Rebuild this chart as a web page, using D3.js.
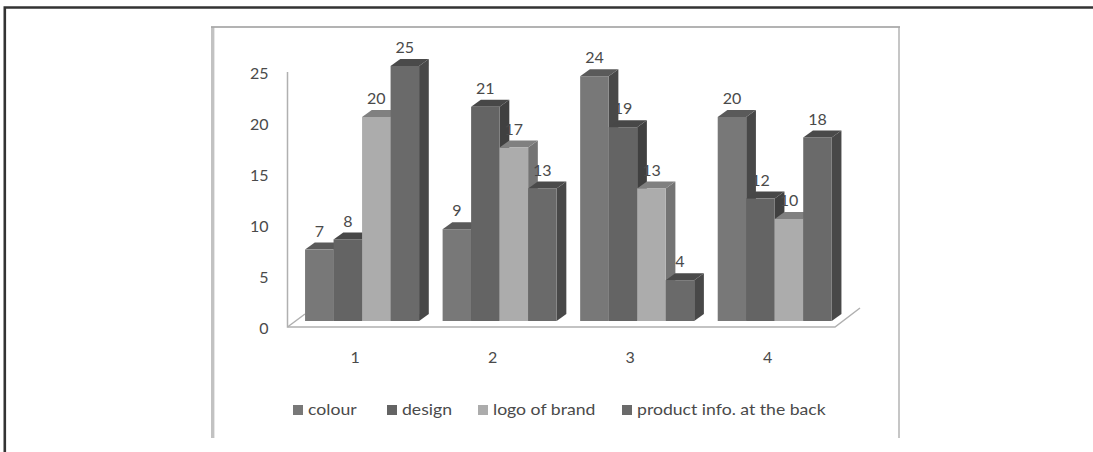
<!DOCTYPE html>
<html>
<head>
<meta charset="utf-8">
<script src="https://cdn.jsdelivr.net/npm/d3@7/dist/d3.min.js"></script>
<style>
  html, body { margin: 0; padding: 0; background: #fff; }
  svg { display: block; }
  text { font-family: Lato, "Open Sans", sans-serif; fill: #4a4a4a; }
</style>
</head>
<body>
<svg id="chart" width="1093" height="452"></svg>
<script>
// Survey scores per respondent group, one array per packaging attribute
const groups = ["1", "2", "3", "4"];
const seriesNames = ["colour", "design", "logo of brand", "product info. at the back"];
const colour = [7, 9, 24, 20];
const design = [8, 21, 19, 12];
const logo = [20, 17, 13, 10];
const productInfo = [25, 13, 4, 18];
const seriesValues = [colour, design, logo, productInfo];
const yTicks = [0, 5, 10, 15, 20, 25];

// Shades for each series: front, top and side faces of a column
const frontShades = ["#787878", "#646464", "#acacac", "#6a6a6a"];
const topShades = ["#5a5a5a", "#474747", "#808080", "#4a4a4a"];
const sideShades = ["#484848", "#404040", "#747474", "#484848"];

const svg = d3.select("#chart");

// Outer page rule
svg.append("path")
  .attr("d", "M4.8,452V7.5H1093")
  .attr("fill", "none").attr("stroke", "#333").attr("stroke-width", 2.6);

// Chart frame: thin darker top, wider pale sides, open at the bottom
const frame = svg.append("g").attr("fill", "none");
frame.append("path").attr("d", "M212.7,438V27.5").attr("stroke", "#c2c2c2").attr("stroke-width", 3.4);
frame.append("path").attr("d", "M899,438V27.5").attr("stroke", "#c6c6c6").attr("stroke-width", 2);
frame.append("path").attr("d", "M211,27H900").attr("stroke", "#9a9a9a").attr("stroke-width", 1.6);

const depthX = 9.7, depthY = 7;

const x = d3.scaleBand().domain(groups).range([293.3, 843.5]).paddingInner(0.171).paddingOuter(0.0855);
const inner = d3.scaleBand().domain(d3.range(4)).range([0, x.bandwidth()]);
const y = d3.scaleLinear().domain([0, 25]).range([321, 66]);

// Floor and back wall of the 3D plot box
const wall = svg.append("g").attr("fill", "none").attr("stroke", "#b0b0b0").attr("stroke-width", 1.5);
wall.append("path").attr("d", "M287.5,72V327H835L860,308");
wall.append("path").attr("d", "M287.5,327L305,314");

// Columns, drawn left to right so nearer faces cover earlier sides
const columns = svg.append("g");
groups.forEach((g, gi) => {
  seriesValues.forEach((vals, si) => {
    const v = vals[gi];
    const x0 = x(g) + inner(si), x1 = x0 + inner.bandwidth();
    const yT = y(v), yB = y(0);
    const col = columns.append("g");
    col.append("path")
      .attr("fill", sideShades[si])
      .attr("d", `M${x1},${yT}L${x1 + depthX},${yT - depthY}V${yB - depthY}L${x1},${yB}Z`);
    col.append("path")
      .attr("fill", topShades[si])
      .attr("d", `M${x0},${yT}L${x0 + depthX},${yT - depthY}H${x1 + depthX}L${x1},${yT}Z`);
    col.append("rect")
      .attr("x", x0).attr("y", yT)
      .attr("width", x1 - x0).attr("height", yB - yT)
      .attr("fill", frontShades[si]);
  });
});

// Value labels sit above everything
const labels = svg.append("g").attr("font-size", 16).attr("text-anchor", "middle");
groups.forEach((g, gi) => {
  seriesValues.forEach((vals, si) => {
    labels.append("text")
      .attr("x", x(g) + inner(si) + inner.bandwidth() / 2)
      .attr("y", y(vals[gi]) - 18.5)
      .attr("dy", "0.35em")
      .text(vals[gi]);
  });
});

// Value axis runs along the front edge of the floor
const yAxis = svg.append("g")
  .attr("transform", "translate(287.5,7)")
  .call(d3.axisLeft(y).tickValues(yTicks).tickSize(0).tickPadding(19));
yAxis.select(".domain").remove();
yAxis.selectAll("text").attr("font-size", 16);

// Category axis, shifted forward and left of the columns by the depth offset
const xAxis = svg.append("g")
  .attr("transform", "translate(-7,352)")
  .call(d3.axisBottom(x).tickSize(0).tickPadding(0));
xAxis.select(".domain").remove();
xAxis.selectAll("text").attr("font-size", 16);

// Legend; the text is set a little wide
const legendSwatchX = [293, 387, 478, 622];
const legendTextScale = 1.175;
const legend = svg.append("g").selectAll("g").data(seriesNames).join("g")
  .attr("transform", (d, i) => `translate(${legendSwatchX[i]},410)`);
legend.append("rect")
  .attr("x", 0).attr("y", -5).attr("width", 10).attr("height", 10)
  .attr("fill", (d, i) => frontShades[i]);
legend.append("text")
  .attr("transform", `translate(15,0) scale(${legendTextScale},1)`)
  .attr("dy", "0.35em").attr("font-size", 15)
  .text(d => d);
</script>
</body>
</html>
